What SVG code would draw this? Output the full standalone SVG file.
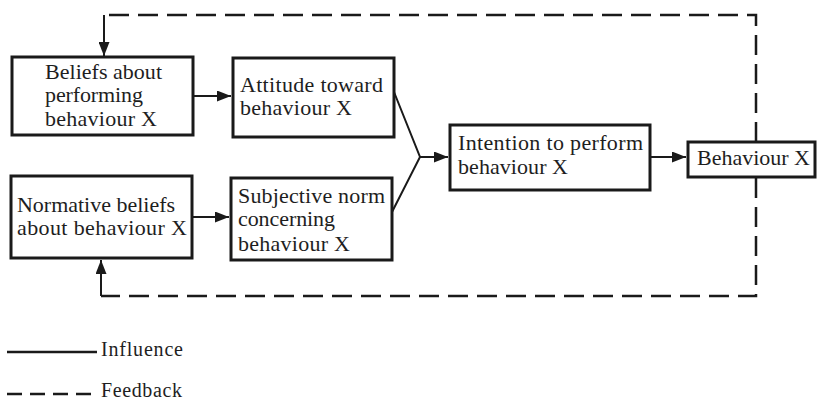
<svg xmlns="http://www.w3.org/2000/svg" width="817" height="403" viewBox="0 0 817 403">
<style>
.box{fill:#fff;stroke:#1a1a1a;stroke-width:3}
.t{font-family:"Liberation Serif","Times New Roman",serif;font-size:22px;fill:#1e1e1e}
.lg{font-family:"Liberation Serif","Times New Roman",serif;font-size:20px;fill:#1e1e1e}
.c{fill:none;stroke:#1a1a1a;stroke-width:2}
.d{fill:none;stroke:#1a1a1a;stroke-width:2.5;stroke-dasharray:20 9}
</style>
<defs>
<marker id="ah" viewBox="0 0 14 11" refX="14" refY="5.5" markerWidth="14" markerHeight="11" markerUnits="userSpaceOnUse" orient="auto">
<path d="M0,0 L14,5.5 L0,11 Z" fill="#1a1a1a"/>
</marker>
</defs>
<rect width="817" height="403" fill="#fff"/>
<g id="connectors">
<line class="c" x1="193" y1="96" x2="231" y2="96" marker-end="url(#ah)"/>
<line class="c" x1="192" y1="217" x2="229" y2="217" marker-end="url(#ah)"/>
<polyline class="c" points="394,92 420,157 392,212"/>
<line class="c" x1="420" y1="157" x2="448" y2="157" marker-end="url(#ah)"/>
<line class="c" x1="651" y1="157" x2="686" y2="157" marker-end="url(#ah)"/>
<polyline class="d" points="756,142 756,15 104,15"/>
<line class="c" x1="104" y1="15" x2="104" y2="56" marker-end="url(#ah)"/>
<polyline class="d" points="756,178 756,296 101,296"/>
<line class="c" x1="101" y1="296" x2="101" y2="260" marker-end="url(#ah)"/>
</g>
<g id="beliefs">
<rect class="box" x="12" y="57" width="181" height="78"/>
<text class="t" x="45" y="79" textLength="117" lengthAdjust="spacing">Beliefs about</text>
<text class="t" x="45" y="102" textLength="98" lengthAdjust="spacing">performing</text>
<text class="t" x="45" y="126" textLength="112" lengthAdjust="spacing">behaviour X</text>
</g>
<g id="attitude">
<rect class="box" x="233" y="58" width="161" height="79"/>
<text class="t" x="240" y="92" textLength="143" lengthAdjust="spacing">Attitude toward</text>
<text class="t" x="240" y="115" textLength="112" lengthAdjust="spacing">behaviour X</text>
</g>
<g id="normative">
<rect class="box" x="11" y="176" width="181" height="82"/>
<text class="t" x="17" y="212" textLength="158" lengthAdjust="spacing">Normative beliefs</text>
<text class="t" x="17" y="235" textLength="170" lengthAdjust="spacing">about behaviour X</text>
</g>
<g id="subjective">
<rect class="box" x="231" y="178" width="161" height="82"/>
<text class="t" x="238" y="203" textLength="147" lengthAdjust="spacing">Subjective norm</text>
<text class="t" x="238" y="226" textLength="97" lengthAdjust="spacing">concerning</text>
<text class="t" x="238" y="251" textLength="112" lengthAdjust="spacing">behaviour X</text>
</g>
<g id="intention">
<rect class="box" x="450" y="125" width="200" height="65"/>
<text class="t" x="458" y="150" textLength="185" lengthAdjust="spacing">Intention to perform</text>
<text class="t" x="458" y="174" textLength="110" lengthAdjust="spacing">behaviour X</text>
</g>
<g id="behaviour">
<rect class="box" x="688" y="142" width="127" height="35"/>
<text class="t" x="697" y="165" textLength="113" lengthAdjust="spacing">Behaviour X</text>
</g>
<g id="legend">
<line x1="7" y1="352" x2="97" y2="352" stroke="#1a1a1a" stroke-width="2.5"/>
<text class="lg" x="101" y="356" textLength="82" lengthAdjust="spacing">Influence</text>
<line x1="7" y1="394" x2="97" y2="394" stroke="#1a1a1a" stroke-width="2.5" stroke-dasharray="15 8"/>
<text class="lg" x="101" y="397" textLength="81" lengthAdjust="spacing">Feedback</text>
</g>
</svg>
